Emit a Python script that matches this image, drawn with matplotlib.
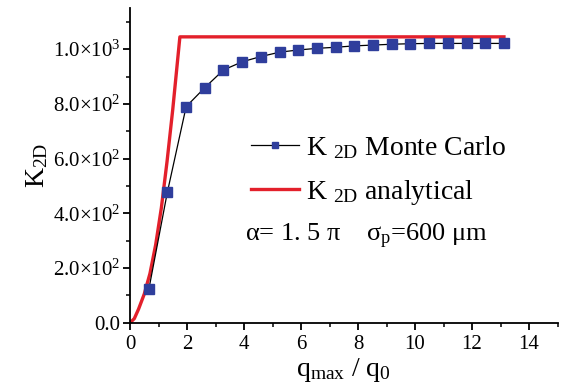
import matplotlib
matplotlib.use("Agg")
import matplotlib.pyplot as plt
from matplotlib.ticker import MultipleLocator, FixedLocator, FixedFormatter

plt.rcParams['font.family'] = ['Liberation Serif', 'DejaVu Serif']
plt.rcParams['mathtext.fontset'] = 'custom'
plt.rcParams['mathtext.rm'] = 'Liberation Serif'
plt.rcParams['mathtext.it'] = 'Liberation Serif:italic'
plt.rcParams['mathtext.bf'] = 'Liberation Serif:bold'

# Monte Carlo data
mc_x = [0.66, 1.31, 1.97, 2.62, 3.28, 3.94, 4.59, 5.25, 5.90, 6.56,
        7.22, 7.87, 8.53, 9.18, 9.84, 10.50, 11.15, 11.81, 12.46, 13.12]
mc_y = [122, 477, 790, 859, 924, 954, 973, 989, 997, 1003,
        1007, 1012, 1015, 1018, 1020, 1021, 1021, 1021, 1021, 1021]

# Analytical curve
an_x = [0, 0.15, 0.3, 0.5, 0.7, 0.9, 1.1, 1.3, 1.5, 1.75, 13.12]
an_y = [0, 15, 50, 105, 180, 285, 420, 590, 780, 1045, 1045]

ytick_vals = [0, 200, 400, 600, 800, 1000]
ytick_labels = ['0.0', '2.0×10$^{2}$', '4.0×10$^{2}$', '6.0×10$^{2}$',
                '8.0×10$^{2}$', '1.0×10$^{3}$']
xtick_vals = [0, 2, 4, 6, 8, 10, 12, 14]

fig = plt.figure(figsize=(5.67, 3.87), dpi=100)
ax = fig.add_axes([0.2293, 0.166, 0.754, 0.813])

red_line, = ax.plot(an_x, an_y, color='#E3202B', lw=2.4, zorder=2,
                    label='K $_{\\mathrm{2D}}$ analytical')
mc_line, = ax.plot(mc_x, mc_y, color='black', lw=0.9, marker='s', ms=6.5,
                   mfc='#2F3E9C', mec='#2F3E9C', zorder=3,
                   label='K $_{\\mathrm{2D}}$ Monte Carlo')

ax.set_xlim(0, 15)
ax.set_ylim(0, 1150)

for s in ['top', 'right']:
    ax.spines[s].set_visible(False)
for s in ['left', 'bottom']:
    ax.spines[s].set_linewidth(1.3)

ax.yaxis.set_major_locator(FixedLocator(ytick_vals))
ax.yaxis.set_major_formatter(FixedFormatter(ytick_labels))
ax.yaxis.set_minor_locator(MultipleLocator(100))
ax.xaxis.set_major_locator(FixedLocator(xtick_vals))
ax.xaxis.set_minor_locator(MultipleLocator(1))

ax.tick_params(which='major', direction='out', length=5, width=1.3, labelsize=15, pad=2)
ax.tick_params(axis='x', which='major', pad=4)
ax.tick_params(which='minor', direction='out', length=3, width=1.1)

ax.set_xlabel('q$_{\\mathrm{max}}$ / q$_{0}$', fontsize=20, labelpad=1)
ax.set_ylabel('K$_{\\mathrm{2D}}$', fontsize=20, labelpad=2)

leg = ax.legend(handles=[mc_line, red_line], loc='upper left',
                bbox_to_anchor=(0.258, 0.635), frameon=False, fontsize=20,
                handlelength=1.7, handletextpad=0.25, labelspacing=0.6,
                borderaxespad=0, markerscale=0.6)

ax.text(0.269, 0.275, 'α= 1. 5 π    σ$_{\\mathrm{p}}$=600 μm', transform=ax.transAxes,
        fontsize=19, va='center', ha='left')

fig.savefig('out.png', dpi=100)
